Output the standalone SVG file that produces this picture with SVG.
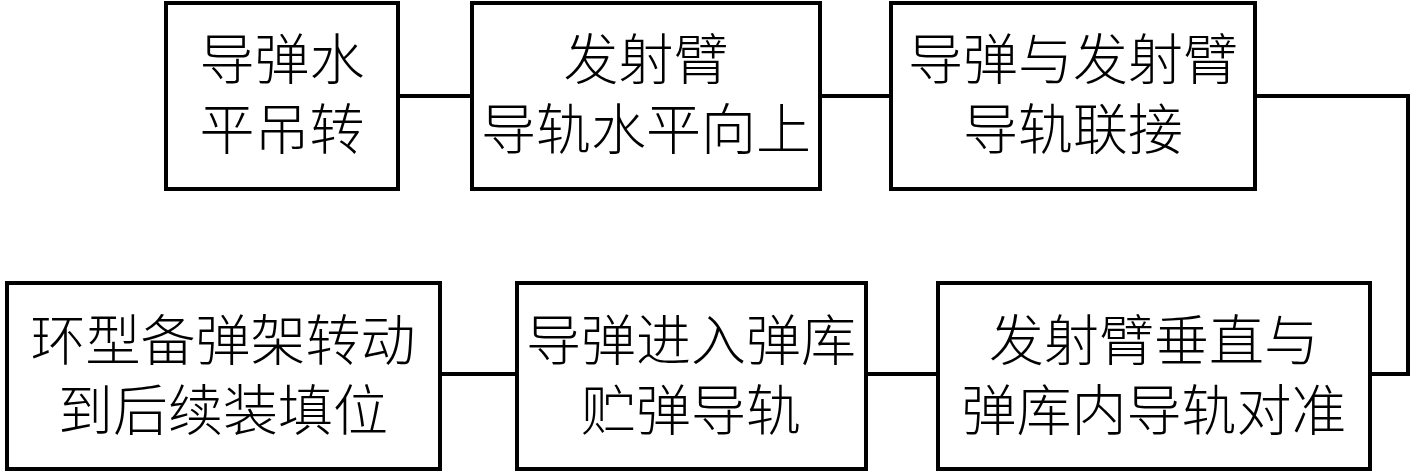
<svg xmlns="http://www.w3.org/2000/svg" width="1417" height="472" viewBox="0 0 1417 472">
<style>
.box{fill:#fff;stroke:#000;stroke-width:4}
.c{fill:none;stroke:#000;stroke-width:4}
text{font-family:"Liberation Serif","Noto Sans CJK SC",serif;font-size:55px;fill:#000;text-anchor:middle;dominant-baseline:central;font-weight:300}
</style>
<rect width="1417" height="472" fill="#fff"/>
<g id="connectors">
<line class="c" x1="398" y1="96" x2="472" y2="96"/>
<line class="c" x1="820" y1="96" x2="891" y2="96"/>
<polyline class="c" points="1255,96 1408,96 1408,374 1370,374"/>
<line class="c" x1="866" y1="374" x2="938" y2="374"/>
<line class="c" x1="440" y1="374" x2="517" y2="374"/>
</g>
<g id="n1"><rect class="box" x="166" y="3" width="232" height="186"/><text><tspan x="282" y="60">导弹水</tspan><tspan x="282" y="130">平吊转</tspan></text></g>
<g id="n2"><rect class="box" x="472" y="3" width="348" height="186"/><text><tspan x="646" y="60">发射臂</tspan><tspan x="646" y="130">导轨水平向上</tspan></text></g>
<g id="n3"><rect class="box" x="891" y="3" width="364" height="186"/><text><tspan x="1073" y="60">导弹与发射臂</tspan><tspan x="1073" y="130">导轨联接</tspan></text></g>
<g id="n4"><rect class="box" x="938" y="283" width="432" height="186"/><text><tspan x="1154" y="341">发射臂垂直与</tspan><tspan x="1154" y="411">弹库内导轨对准</tspan></text></g>
<g id="n5"><rect class="box" x="517" y="283" width="349" height="186"/><text><tspan x="691" y="341">导弹进入弹库</tspan><tspan x="691" y="411">贮弹导轨</tspan></text></g>
<g id="n6"><rect class="box" x="7" y="283" width="433" height="186"/><text><tspan x="223" y="341">环型备弹架转动</tspan><tspan x="223" y="411">到后续装填位</tspan></text></g>
</svg>
